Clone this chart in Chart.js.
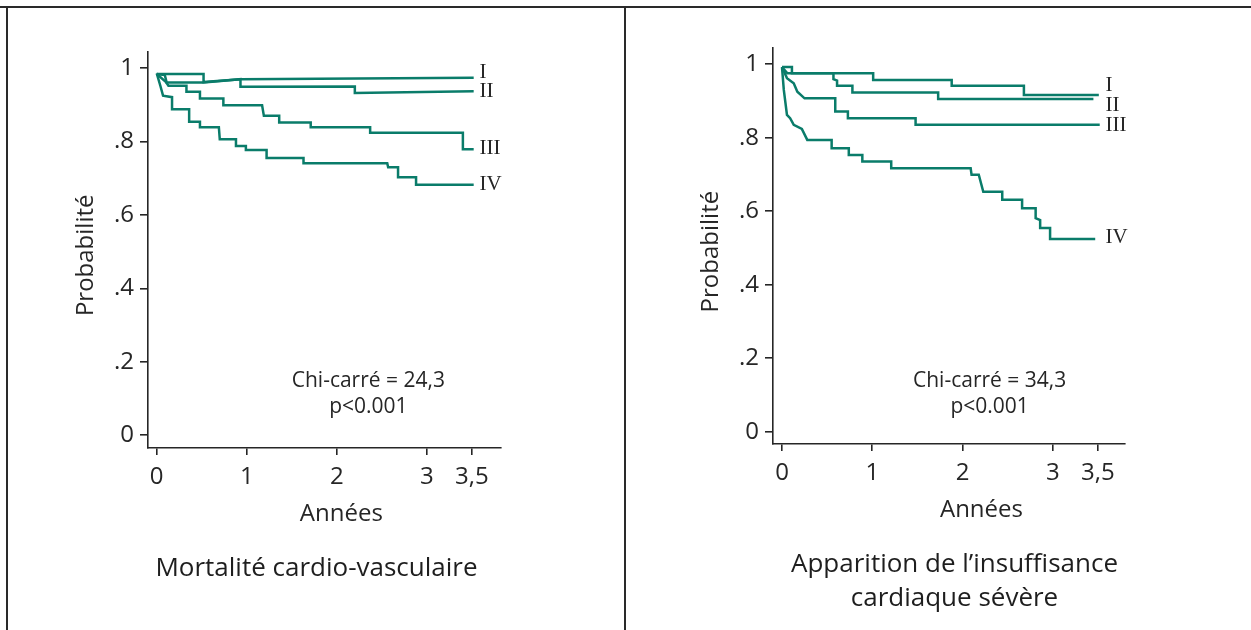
<!DOCTYPE html>
<html>
<head>
<meta charset="utf-8">
<script src="https://cdn.jsdelivr.net/npm/chart.js@4/dist/chart.umd.min.js"></script>
<style>
html,body{margin:0;padding:0;background:#fff;}
#wrap{position:relative;width:1251px;height:630px;overflow:hidden;background:#fff;font-family:"Open Sans",sans-serif;color:#1e1e1e;}
.panel{position:absolute;top:0;width:625px;height:630px;}
canvas{display:block;}
.rule{position:absolute;background:#2a2a2a;}
.sub{position:absolute;width:625px;text-align:center;font-size:26px;line-height:34px;white-space:nowrap;}
</style>
</head>
<body>
<div id="wrap">
  <div class="panel" style="left:0"><canvas id="c1" width="625" height="630"></canvas></div>
  <div class="panel" style="left:625px"><canvas id="c2" width="626" height="630"></canvas></div>
  <div class="rule" style="left:0;top:6px;width:1251px;height:1.6px"></div>
  <div class="rule" style="left:6px;top:6px;width:1.6px;height:624px"></div>
  <div class="rule" style="left:624px;top:6px;width:1.6px;height:624px"></div>
  <div class="sub" id="s1" style="left:4px;top:549px">Mortalité cardio-vasculaire</div>
  <div class="sub" id="s2" style="left:642px;top:545px">Apparition de l’insuffisance<br>cardiaque sévère</div>
</div>
<script>
// ---- tick labels / categories ----
const yearTicks = [0, 1, 2, 3, 3.5];
const yearTickLabels = ['0', '1', '2', '3', '3,5'];
const probTicks = [0, 0.2, 0.4, 0.6, 0.8, 1];
const probTickLabels = ['0', '.2', '.4', '.6', '.8', '1'];
const groupNames = ['I', 'II', 'III', 'IV'];
const xTitle = 'Années';
const yTitle = 'Probabilité';

// ---- Mortalité cardio-vasculaire : [années, probabilité] ----
const mortI = [[0,0.984],[0.52,0.984],[0.52,0.962],[0.93,0.970],[3.52,0.974]];
const mortII = [[0,0.984],[0.09,0.981],[0.11,0.961],[0.52,0.961],[0.93,0.970],[0.93,0.949],[2.2,0.950],[2.2,0.932],[3.52,0.937]];
const mortIII = [[0,0.984],[0.10,0.963],[0.13,0.952],[0.33,0.952],[0.33,0.936],[0.48,0.936],[0.48,0.917],[0.74,0.917],[0.74,0.899],[1.17,0.899],[1.19,0.870],[1.36,0.870],[1.36,0.852],[1.71,0.852],[1.71,0.839],[2.37,0.839],[2.37,0.824],[3.40,0.824],[3.40,0.779],[3.52,0.779]];
const mortIV = [[0,0.986],[0.04,0.952],[0.07,0.925],[0.17,0.921],[0.17,0.888],[0.36,0.888],[0.36,0.854],[0.48,0.854],[0.48,0.839],[0.69,0.839],[0.70,0.806],[0.88,0.806],[0.88,0.788],[0.99,0.788],[0.99,0.777],[1.22,0.777],[1.22,0.755],[1.63,0.755],[1.63,0.741],[2.56,0.741],[2.57,0.730],[2.68,0.730],[2.68,0.703],[2.88,0.703],[2.88,0.682],[3.52,0.682]];
const mortLabelP = [0.9885, 0.937, 0.780, 0.682];
const mortChi = ['Chi-carré = 24,3', 'p<0.001'];

// ---- Apparition de l'insuffisance cardiaque sévère ----
const hfI = [[0,0.992],[0.11,0.992],[0.11,0.975],[1.01,0.975],[1.01,0.957],[1.88,0.957],[1.88,0.941],[2.68,0.941],[2.68,0.916],[3.51,0.916]];
const hfII = [[0,0.992],[0.06,0.975],[0.57,0.975],[0.57,0.959],[0.61,0.955],[0.61,0.941],[0.78,0.941],[0.78,0.923],[1.73,0.923],[1.73,0.905],[3.45,0.905]];
const hfIII = [[0,0.992],[0.055,0.962],[0.13,0.948],[0.17,0.925],[0.25,0.907],[0.59,0.907],[0.59,0.871],[0.73,0.871],[0.73,0.853],[1.48,0.853],[1.48,0.835],[3.52,0.835]];
const hfIV = [[0,0.992],[0.02,0.930],[0.055,0.862],[0.09,0.853],[0.13,0.835],[0.22,0.824],[0.28,0.794],[0.55,0.794],[0.55,0.771],[0.74,0.771],[0.74,0.753],[0.89,0.753],[0.89,0.735],[1.21,0.735],[1.21,0.717],[2.09,0.717],[2.10,0.699],[2.18,0.699],[2.23,0.653],[2.44,0.653],[2.44,0.631],[2.66,0.631],[2.66,0.608],[2.81,0.608],[2.81,0.581],[2.86,0.576],[2.86,0.554],[2.97,0.554],[2.97,0.524],[3.47,0.524]];
const hfLabelP = [0.942, 0.888, 0.833, 0.529];
const hfChi = ['Chi-carré = 34,3', 'p<0.001'];

// ---- styling ----
const LINE = '#0a7c6a';
const INK = '#262626';
const SANS = '"Open Sans", "Noto Sans", sans-serif';

const annot = {
  id: 'annot',
  afterDatasetsDraw(chart, args, o) {
    const {ctx, scales: {x, y}} = chart;
    ctx.save();
    ctx.fillStyle = INK;
    ctx.textBaseline = 'middle';
    // group labels
    ctx.textAlign = 'left';
    ctx.font = '21px "Liberation Serif", "Times New Roman", serif';
    o.names.forEach((n, i) => {
      ctx.fillText(n, x.getPixelForValue(o.labelX), y.getPixelForValue(o.labelP[i]));
    });
    // test statistic
    ctx.textAlign = 'center';
    ctx.font = '21px ' + SANS;
    o.chi.forEach((t, i) => {
      ctx.fillText(t, x.getPixelForValue(o.chiX), y.getPixelForValue(o.chiY[i]));
    });
    // axis titles
    ctx.font = '24px ' + SANS;
    ctx.fillText(xTitle, x.getPixelForValue(o.xTitleAt), x.top + 66);
    ctx.translate(y.left + 86, y.getPixelForValue(0.49));
    ctx.rotate(-Math.PI / 2);
    ctx.fillText(yTitle, 0, 0);
    ctx.restore();
  }
};

function makeChart(id, series, labelP, chi, lay) {
  const datasets = series.map((s, i) => ({
    label: groupNames[i],
    data: s.map(([a, b]) => ({x: a, y: b})),
    borderColor: LINE,
    borderWidth: 2.5,
    pointRadius: 0,
    fill: false,
    tension: 0
  }));
  return new Chart(document.getElementById(id), {
    type: 'line',
    data: {datasets},
    plugins: [annot],
    options: {
      responsive: false,
      animation: false,
      devicePixelRatio: 1,
      layout: {padding: {left: 0, top: lay.top, right: lay.right, bottom: lay.bottom}},
      plugins: {
        legend: {display: false},
        tooltip: {enabled: false},
        annot: {names: groupNames, labelX: 3.585, labelP, chi, chiX: lay.chiX, chiY: lay.chiY, xTitleAt: lay.xTitleAt}
      },
      scales: {
        x: {
          type: 'linear',
          min: lay.xmin, max: lay.xmax,
          afterBuildTicks: s => { s.ticks = yearTicks.map(v => ({value: v})); },
          afterFit: s => { s.height = 100; },
          ticks: {
            autoSkip: false, maxRotation: 0, padding: 8,
            color: INK, font: {family: SANS, size: 24},
            callback: v => yearTickLabels[yearTicks.indexOf(v)]
          },
          grid: {drawOnChartArea: false, drawTicks: true, tickLength: 7, color: INK, lineWidth: 1.6},
          border: {display: true, color: INK, width: 1.6},
          title: {display: false}
        },
        y: {
          type: 'linear',
          min: lay.ymin, max: lay.ymax,
          afterBuildTicks: s => { s.ticks = probTicks.map(v => ({value: v})); },
          afterFit: s => { s.width = 148; },
          ticks: {
            autoSkip: false, padding: 6,
            color: INK, font: {family: SANS, size: 24},
            callback: v => probTickLabels[probTicks.indexOf(v)]
          },
          grid: {drawOnChartArea: false, drawTicks: true, tickLength: 8, color: INK, lineWidth: 1.6},
          border: {display: true, color: INK, width: 1.6},
          title: {display: false}
        }
      }
    }
  });
}

makeChart('c1', [mortI, mortII, mortIII, mortIV], mortLabelP, mortChi,
  {top: 52, right: 124.3, bottom: 82, xmin: -0.097, xmax: 3.82, ymin: -0.035, ymax: 1.044, chiX: 2.35, chiY: [0.148, 0.078], xTitleAt: 2.05});
makeChart('c2', [hfI, hfII, hfIII, hfIV], hfLabelP, hfChi,
  {top: 48, right: 126, bottom: 86, xmin: -0.0997, xmax: 3.80, ymin: -0.0335, ymax: 1.044, chiX: 2.30, chiY: [0.137, 0.066], xTitleAt: 2.21});
</script>
</body>
</html>
